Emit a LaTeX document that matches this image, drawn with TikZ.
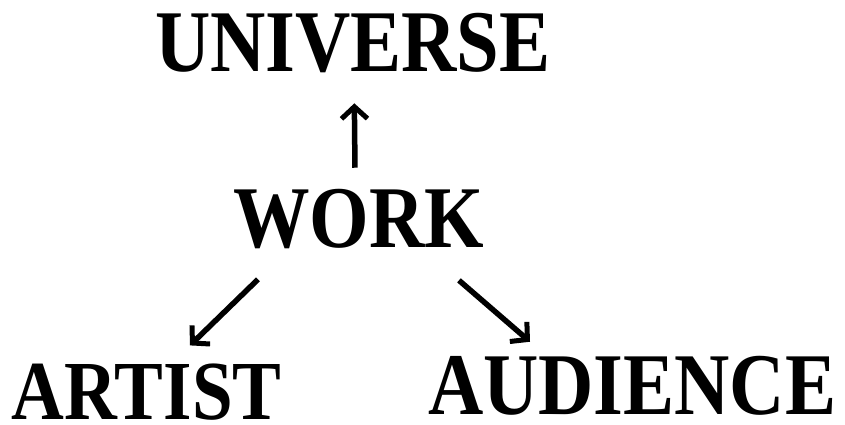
\documentclass[tikz,border=0pt]{standalone}
\usepackage{fontspec}
\setmainfont{Liberation Serif}
\newfontfamily\narrowserif[FakeStretch=0.87]{Liberation Serif}
\usetikzlibrary{arrows.meta,calc}
\begin{document}
\begin{tikzpicture}[x=1pt,y=-1pt,
  lbl/.style={inner sep=0pt, outer sep=0pt, anchor=base west, font=\narrowserif\bfseries\fontsize{88}{88}\selectfont},
  arr/.style={line width=5.5pt, -{Straight Barb[length=12pt,width=26pt,line width=5pt]}}]
\useasboundingbox (0,0) rectangle (845,424);
\node[lbl] (universe) at (155,71) {UNIVERSE};
\node[lbl] (work) at (233,247) {WORK};
\node[lbl, font=\narrowserif\bfseries\fontsize{84}{84}\selectfont] (artist) at (12,419) {ARTIST};
\node[lbl] (audience) at (428,414) {AUDIENCE};
\draw[arr] ($(work.north)+(-3.5,-21)$) -- ($(universe.south)+(1.5,31)$);
\draw[arr] ($(work.south west)+(25,31)$) -- ($(artist.north west)+(178,-18)$);
\draw[arr] ($(work.south east)+(-25,32)$) -- ($(audience.north west)+(102,-14)$);
\end{tikzpicture}
\end{document}
